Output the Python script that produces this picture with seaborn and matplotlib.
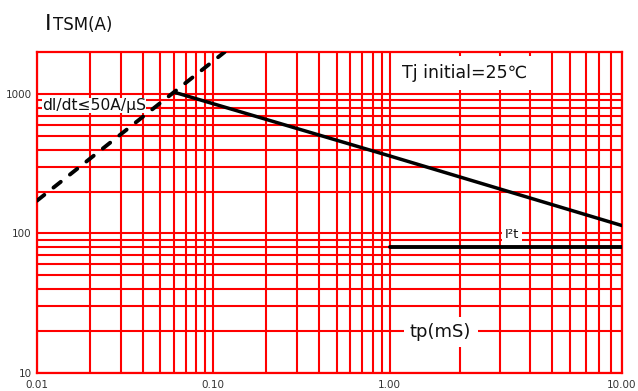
import numpy as np
import pandas as pd
import matplotlib
matplotlib.use("Agg")
import matplotlib.pyplot as plt
from matplotlib.ticker import FixedLocator, FixedFormatter, NullFormatter
import seaborn as sns

# Surge current curve (tp in ms, ITSM in A)
tp_ms = [0.06, 1.0, 10.0]
itsm_a = [1030, 360, 114]

# dI/dt <= 50 A/us limit (dashed)
didt_tp = [0.01, 0.116]
didt_a = [172, 2000]

# I2t line
i2t_tp = [1.0, 10.0]
i2t_a = [80, 80]

x_ticks = [0.01, 0.1, 1.0, 10.0]
x_labels = ["0.01", "0.10", "1.00", "10.00"]
y_ticks = [10, 100, 1000]
y_labels = ["10", "100", "1000"]

sns.set_theme(style="white")
plt.rcParams["font.family"] = ["DejaVu Sans"]

W, H = 638, 391
fig = plt.figure(figsize=(W / 100, H / 100), dpi=100)
ax = fig.add_axes([37 / W, 18 / H, (622 - 37) / W, (373 - 52) / H])

# the last decade of the original chart is drawn wider than the first two
STRETCH = 232 / 176


def fwd(x):
    x = np.asarray(x, dtype=float)
    with np.errstate(divide="ignore", invalid="ignore"):
        lx = np.log10(np.clip(x, 1e-300, None))
    return np.where(lx <= 0, lx, lx * STRETCH)


def inv(v):
    v = np.asarray(v, dtype=float)
    return np.where(v <= 0, 10.0 ** v, 10.0 ** (v / STRETCH))


ax.set_xscale("function", functions=(fwd, inv))
ax.set_yscale("log")
ax.set_xlim(0.01, 10)
ax.set_ylim(10, 2000)

minor_x = [k * 10.0 ** e for e in (-2, -1, 0) for k in range(2, 10)]
minor_y = [k * 10.0 ** e for e in (1, 2) for k in range(2, 10)]
ax.xaxis.set_major_locator(FixedLocator(x_ticks))
ax.xaxis.set_major_formatter(FixedFormatter(x_labels))
ax.xaxis.set_minor_locator(FixedLocator(minor_x))
ax.xaxis.set_minor_formatter(NullFormatter())
ax.yaxis.set_major_locator(FixedLocator(y_ticks))
ax.yaxis.set_major_formatter(FixedFormatter(y_labels))
ax.yaxis.set_minor_locator(FixedLocator(minor_y))
ax.yaxis.set_minor_formatter(NullFormatter())

red = "#ff0000"
ax.grid(True, which="both", color=red, linewidth=1.5)
ax.set_axisbelow(True)
for s in ax.spines.values():
    s.set_color(red)
    s.set_linewidth(1.6)
ax.tick_params(which="both", length=0, labelsize=7.5, labelcolor="#333333")
ax.tick_params(axis="x", pad=5)
ax.tick_params(axis="y", pad=4)

df_main = pd.DataFrame({"tp": tp_ms, "itsm": itsm_a})
df_didt = pd.DataFrame({"tp": didt_tp, "itsm": didt_a})
df_i2t = pd.DataFrame({"tp": i2t_tp, "itsm": i2t_a})

sns.lineplot(data=df_main, x="tp", y="itsm", ax=ax, color="black",
             linewidth=2.5, zorder=3)
sns.lineplot(data=df_didt, x="tp", y="itsm", ax=ax, color="black",
             linewidth=2.8, linestyle=(0, (2.4, 3.0)), dash_capstyle="round",
             zorder=3)
sns.lineplot(data=df_i2t, x="tp", y="itsm", ax=ax, color="black",
             linewidth=2.8, zorder=3)
ax.set_xlabel("")
ax.set_ylabel("")


def fx(px):
    return px / W


def fy(py):
    return 1 - py / H


def white(pad):
    return dict(facecolor="white", edgecolor="none", boxstyle=f"square,pad={pad}")


ax.text(fx(402), fy(78), "Tj initial=25℃", transform=fig.transFigure,
        fontsize=12.5, color="#111111", va="baseline", ha="left",
        bbox=white(0.45), zorder=1.5)
ax.text(fx(42), fy(110), "dI/dt≤50A/μS", transform=fig.transFigure,
        fontsize=11.2, color="#111111", va="baseline", ha="left",
        bbox=white(0.0), zorder=1.5)
ax.text(fx(410), fy(337), "tp(mS)", transform=fig.transFigure,
        fontsize=13, color="#111111", va="baseline", ha="left",
        bbox=white(0.35), zorder=1.5)
ax.text(fx(505), fy(238), "I²t", transform=fig.transFigure,
        fontsize=9.5, color="#111111", va="baseline", ha="left",
        bbox=white(0.2), zorder=1.5)

# axis title
fig.text(fx(45), fy(29.5), "I", fontsize=16, color="#111111", va="baseline")
fig.text(fx(53), fy(29.5), "TSM(A)", fontsize=12, color="#111111", va="baseline")

fig.savefig("out.png", dpi=100, facecolor="white")
